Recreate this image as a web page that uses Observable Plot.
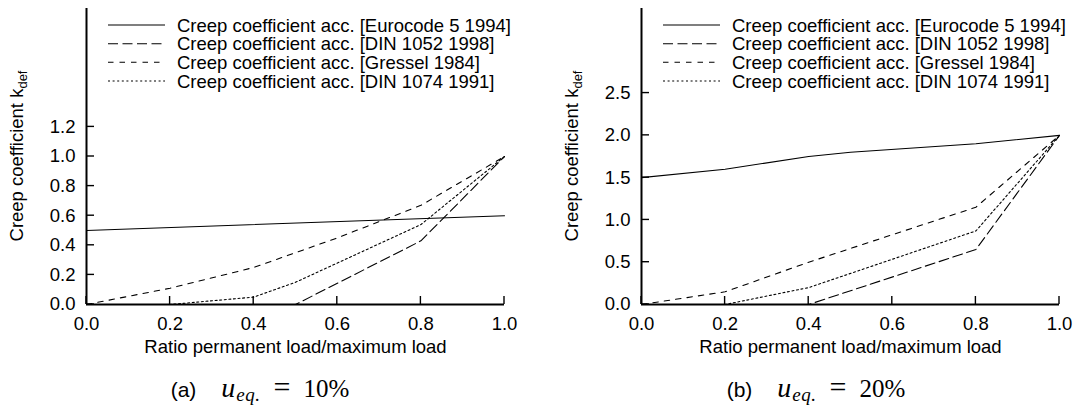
<!DOCTYPE html>
<html><head><meta charset="utf-8">
<script src="https://cdn.jsdelivr.net/npm/d3@7"></script>
<script src="https://cdn.jsdelivr.net/npm/@observablehq/plot@0.6"></script>
<style>
body{margin:0;background:#fff;}
#wrap{position:relative;width:1077px;height:407px;overflow:hidden;font-family:"Liberation Sans",Arial,sans-serif;}
.panel{position:absolute;top:0;}
.cap{position:absolute;top:372px;font-size:25px;white-space:nowrap;transform:translateX(-50%);line-height:30px;}
.cap span, .cap i, .cap sub{line-height:30px;}
.cap .lab{font-family:"Liberation Sans",sans-serif;font-size:21px;margin-right:25px;}
.cap .m{font-family:"Liberation Serif",serif;}
.cap i{font-style:italic;}
.cap .u{font-size:28px;}
.cap sub{font-size:19px;vertical-align:-4px;line-height:0;margin-left:1px;letter-spacing:0.5px;}
.cap .eq{font-size:30px;margin:0 13px;}
</style></head>
<body><div id="wrap"></div>
<script>
// ---- data ----
const seriesNames = [
  "Creep coefficient acc. [Eurocode 5 1994]",
  "Creep coefficient acc. [DIN 1052 1998]",
  "Creep coefficient acc. [Gressel 1984]",
  "Creep coefficient acc. [DIN 1074 1991]"
];
const xLabel = "Ratio permanent load/maximum load";
const yLabelMain = "Creep coefficient k";
const yLabelSub = "def";
const xTicks = [0, 0.2, 0.4, 0.6, 0.8, 1.0];

// (a) u_eq = 10%
const yTicksA = [0, 0.2, 0.4, 0.6, 0.8, 1.0, 1.2];
const yMaxA = 2.0;
const euroA_x = [0, 1];
const euroA_y = [0.5, 0.6];
const din1052A_x = [0, 0.5, 0.8, 1];
const din1052A_y = [0, 0, 0.43, 1.0];
const gresselA_x = [0, 0.2, 0.4, 0.6, 0.8, 1];
const gresselA_y = [0, 0.11, 0.25, 0.45, 0.67, 1.0];
const din1074A_x = [0, 0.2, 0.4, 0.5, 0.8, 1];
const din1074A_y = [0, 0, 0.05, 0.15, 0.54, 1.0];

// (b) u_eq = 20%
const yTicksB = [0, 0.5, 1.0, 1.5, 2.0, 2.5];
const yMaxB = 3.5;
const euroB_x = [0, 0.2, 0.4, 0.5, 0.8, 1];
const euroB_y = [1.5, 1.6, 1.75, 1.8, 1.9, 2.0];
const din1052B_x = [0, 0.4, 0.8, 1];
const din1052B_y = [0, 0, 0.65, 2.0];
const gresselB_x = [0, 0.2, 0.4, 0.8, 1];
const gresselB_y = [0, 0.15, 0.5, 1.15, 2.0];
const din1074B_x = [0, 0.2, 0.4, 0.8, 1];
const din1074B_y = [0, 0, 0.2, 0.87, 2.0];

// ---- styles ----
const dashes = [null, "10,4.5", "5.5,6", "2,2.6"];
const FONT = "Liberation Sans, Arial, sans-serif";
const FS = 18.5;
const TICK = 8;

function toRows(xs, ys) { return xs.map((x, i) => ({x, y: ys[i]})); }

function makePanel({left, width, marginLeft, marginRight, yMax, yTicks, series, caption, capCenter}) {
  const height = 370, marginTop = 8, marginBottom = height - 304;
  const marks = [
    Plot.axisX(xTicks, {tickSize: 0, tickPadding: 12, tickFormat: d => d.toFixed(1), label: null}),
    Plot.axisY(yTicks, {tickSize: 0, tickPadding: 11, tickFormat: d => d.toFixed(1), label: null}),
  ];
  series.forEach((s, i) => {
    marks.push(Plot.line(toRows(s[0], s[1]), {x: "x", y: "y", stroke: "#000", strokeWidth: 1.1,
      strokeDasharray: dashes[i] || undefined}));
  });
  marks.push(Plot.ruleX([0], {y1: 0, y2: yMax, stroke: "#000", strokeWidth: 2}));
  marks.push(Plot.ruleY([0], {x1: 0, x2: 1, stroke: "#000", strokeWidth: 2}));
  marks.push(Plot.text([xLabel], {text: d => d, frameAnchor: "bottom", dy: 48, fontSize: FS, fill: "#000"}));
  const plot = Plot.plot({
    width, height, marginTop, marginBottom, marginLeft, marginRight,
    style: {fontFamily: FONT, fontSize: FS + "px", color: "#000", background: "transparent", overflow: "visible"},
    x: {domain: [0, 1]},
    y: {domain: [0, yMax]},
    marks
  });
  plot.classList.add("panel");
  plot.style.left = left + "px";
  const svg = d3.select(plot);
  const sx = plot.scale("x"), sy = plot.scale("y");
  // inward ticks, placed through Plot's own scales
  const tg = svg.append("g").attr("stroke", "#000").attr("stroke-width", 1.4);
  xTicks.forEach(t => {
    const px = sx.apply(t), py = sy.apply(0);
    tg.append("line").attr("x1", px).attr("x2", px).attr("y1", py).attr("y2", py - TICK);
  });
  yTicks.forEach(t => {
    const px = sx.apply(0), py = sy.apply(t);
    tg.append("line").attr("x1", px).attr("x2", px + TICK).attr("y1", py).attr("y2", py);
  });
  // y label with subscript
  const yl = svg.append("text")
    .attr("transform", `translate(${marginLeft - 63},156) rotate(-90)`)
    .attr("text-anchor", "middle")
    .attr("font-family", FONT).attr("font-size", FS).attr("fill", "#000");
  yl.append("tspan").text(yLabelMain);
  yl.append("tspan").attr("font-size", 13).attr("dy", 4).text(yLabelSub);
  // legend
  const lg = svg.append("g").attr("font-family", FONT).attr("font-size", FS).attr("fill", "#000")
    .attr("text-anchor", "start");
  const rowY = [25, 43.7, 62.3, 81];
  seriesNames.forEach((name, i) => {
    lg.append("line").attr("x1", marginLeft + 22).attr("x2", marginLeft + 79)
      .attr("y1", rowY[i]).attr("y2", rowY[i]).attr("stroke", "#000").attr("stroke-width", 1.1)
      .attr("stroke-dasharray", dashes[i]);
    lg.append("text").attr("x", marginLeft + 91).attr("y", rowY[i]).attr("dy", "0.36em")
      .attr("text-anchor", "start").text(name);
  });
  document.getElementById("wrap").appendChild(plot);
  const cap = document.createElement("div");
  cap.className = "cap";
  cap.style.left = capCenter + "px";
  cap.innerHTML = caption;
  document.getElementById("wrap").appendChild(cap);
}

makePanel({left: 0, width: 538, marginLeft: 86, marginRight: 34, yMax: yMaxA, yTicks: yTicksA,
  series: [[euroA_x, euroA_y], [din1052A_x, din1052A_y], [gresselA_x, gresselA_y], [din1074A_x, din1074A_y]],
  caption: '<span class="lab">(a)</span><span class="m"><i class="u">u</i><sub><i>eq.</i></sub><span class="eq">=</span>10%</span>', capCenter: 260});
makePanel({left: 540, width: 537, marginLeft: 101, marginRight: 18, yMax: yMaxB, yTicks: yTicksB,
  series: [[euroB_x, euroB_y], [din1052B_x, din1052B_y], [gresselB_x, gresselB_y], [din1074B_x, din1074B_y]],
  caption: '<span class="lab">(b)</span><span class="m"><i class="u">u</i><sub><i>eq.</i></sub><span class="eq">=</span>20%</span>', capCenter: 816});
</script>
</body></html>
